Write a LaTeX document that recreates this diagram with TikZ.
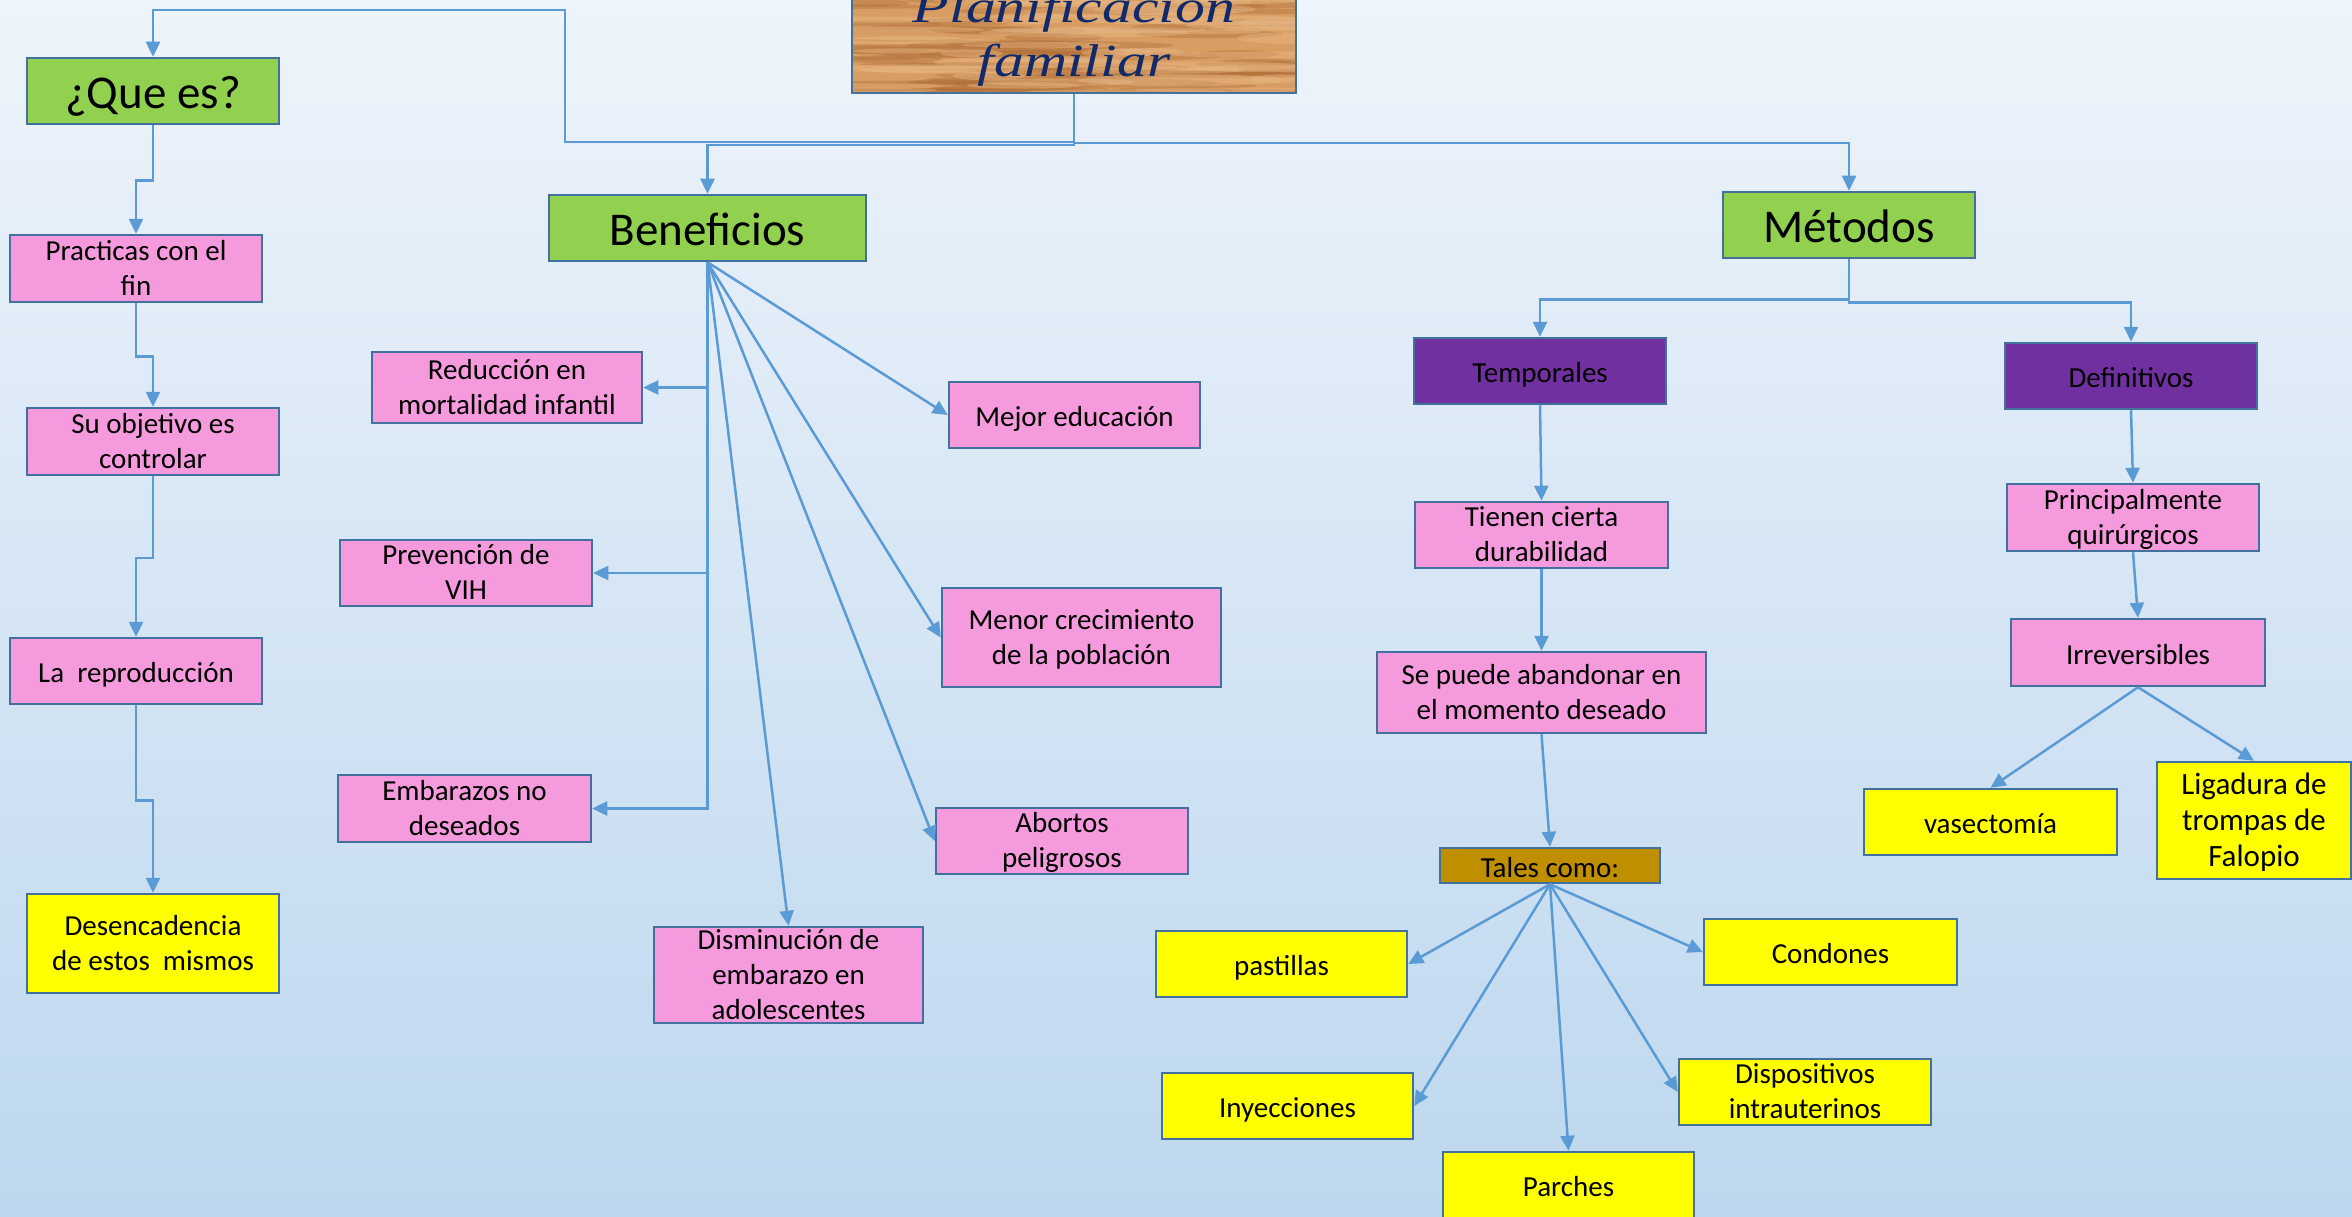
\documentclass[tikz,border=0pt]{standalone}
\usepackage{fontspec}
\setmainfont{Carlito}
\newfontfamily\titlefont[FakeStretch=1.3]{Liberation Serif}
\usetikzlibrary{arrows.meta}
\definecolor{bgtop}{HTML}{EEF4FB}
\definecolor{bgbot}{HTML}{BDD7EE}
\definecolor{bordc}{HTML}{41719C}
\definecolor{linec}{HTML}{5B9BD5}
\definecolor{pinkc}{HTML}{F59BDD}
\definecolor{yelc}{HTML}{FFFF00}
\definecolor{greenc}{HTML}{92D050}
\definecolor{purpc}{HTML}{7030A0}
\definecolor{goldc}{HTML}{BF8F00}
\definecolor{woodbase}{HTML}{D79D62}
\definecolor{woodd}{HTML}{B06F38}
\definecolor{woodl}{HTML}{EBBB88}
\definecolor{titlec}{HTML}{102A6C}
\newcommand\boxfont{\fontsize{29}{35}\selectfont}
\newcommand\headfont{\fontsize{47}{56}\selectfont}
\tikzset{
  bx/.style={draw=bordc, line width=2.5pt, inner sep=0pt, align=center, text=black, font=\boxfont,
             execute at begin node=\strut, execute at end node=\strut, text depth=1.5pt},
  pinkb/.style={bx, fill=pinkc},
  yelb/.style={bx, fill=yelc},
  greenb/.style={bx, fill=greenc, font=\headfont, text depth=4pt},
  purpb/.style={bx, fill=purpc},
  goldb/.style={bx, fill=goldc},
  sz/.style 2 args={minimum width=#1pt, minimum height=#2pt},
  conn/.style={draw=linec, line width=2.5pt, -{Triangle[length=15pt,width=14pt]}},
}
\begin{document}
\begin{tikzpicture}[x=1pt,y=-1pt]
\useasboundingbox (0,0) rectangle (2352,1217);
\clip (0,0) rectangle (2352,1217);
\shade[top color=bgtop, bottom color=bgbot] (0,0) rectangle (2352,1217);

% wood texture of the title box
\begin{scope}
  \clip (852,-17) rectangle (1296,93);
  \fill[woodbase] (852,-17) rectangle (1296,93);
  \pgfmathsetseed{12}
  \foreach \k in {1,...,80}{
    \pgfmathsetmacro{\wx}{852+444*rnd}
    \pgfmathsetmacro{\wy}{-17+110*rnd}
    \pgfmathsetmacro{\wl}{30+80*rnd}
    \pgfmathsetmacro{\wh}{1.5+3*rnd}
    \fill[woodd, opacity=0.4] (\wx,\wy) ellipse [x radius=\wl pt, y radius=\wh pt];
  }
  \foreach \k in {1,...,50}{
    \pgfmathsetmacro{\wx}{852+444*rnd}
    \pgfmathsetmacro{\wy}{-17+110*rnd}
    \pgfmathsetmacro{\wl}{30+80*rnd}
    \pgfmathsetmacro{\wh}{2+4*rnd}
    \fill[woodl, opacity=0.4] (\wx,\wy) ellipse [x radius=\wl pt, y radius=\wh pt];
  }
\end{scope}
\node[draw=bordc, line width=2.5pt, inner sep=0pt, sz={444}{110}, align=center, text=titlec,
      font=\titlefont\itshape\fontsize{46}{54}\selectfont] (title) at (1074,38) {Planificación\\familiar};

% heads
\node[greenb, sz={252}{66}] (que) at (153,91) {¿Que es?};
\node[greenb, sz={317}{66}] (benef) at (707.5,228) {Beneficios};
\node[greenb, sz={252}{66}] (metod) at (1849,225) {Métodos};

% left column
\node[pinkb, sz={252}{67}] (prac) at (136,268.5) {Practicas con el\\fin};
\node[pinkb, sz={252}{67}] (obj) at (153,441.5) {Su objetivo es\\controlar};
\node[pinkb, sz={252}{66}] (repro) at (136,671) {La~~reproducción};
\node[yelb, sz={252}{99}] (desen) at (153,943.5) {Desencadencia\\de estos~~mismos};

% beneficios
\node[pinkb, sz={270}{71}] (reduc) at (507,387.5) {Reducción en\\mortalidad infantil};
\node[pinkb, sz={252}{66}] (preven) at (466,573) {Prevención de\\VIH};
\node[pinkb, sz={253}{67}] (embar) at (464.5,808.5) {Embarazos no\\deseados};
\node[pinkb, sz={251}{66}] (mejor) at (1074.5,415) {Mejor educación};
\node[pinkb, sz={279}{99}] (menor) at (1081.5,637.5) {Menor crecimiento\\de la población};
\node[pinkb, sz={252}{66}] (abort) at (1062,841) {Abortos\\peligrosos};
\node[pinkb, sz={269}{96}] (dismin) at (788.5,975) {Disminución de\\embarazo en\\adolescentes};

% metodos
\node[purpb, sz={252}{66}] (temp) at (1540,371) {Temporales};
\node[purpb, sz={252}{66}] (defin) at (2131,376) {Definitivos};
\node[pinkb, sz={253}{66}] (tienen) at (1541.5,535) {Tienen cierta\\durabilidad};
\node[pinkb, sz={252}{67}] (princ) at (2133,517.5) {Principalmente\\quirúrgicos};
\node[pinkb, sz={254}{67}] (irrev) at (2138,652.5) {Irreversibles};
\node[yelb, sz={253}{66}] (vasec) at (1990.5,822) {vasectomía};
\node[yelb, sz={194}{117}, font=\fontsize{31}{36}\selectfont] (ligad) at (2254,820.5) {Ligadura de\\trompas de\\Falopio};
\node[pinkb, sz={329}{81}] (sepuede) at (1541.5,692.5) {Se puede abandonar en\\el momento deseado};
\node[goldb, sz={220}{35}] (tales) at (1550,865.5) {Tales como:};
\node[yelb, sz={251}{66}] (pastillas) at (1281.5,964) {pastillas};
\node[yelb, sz={253}{66}] (condones) at (1830.5,952) {Condones};
\node[yelb, sz={251}{66}] (inyec) at (1287.5,1106) {Inyecciones};
\node[yelb, sz={251}{66}] (parches) at (1568.5,1185) {Parches};
\node[yelb, sz={252}{66}] (disp) at (1805,1092) {Dispositivos\\intrauterinos};

% connectors from the title
\coordinate (qturn) at (565,10);
\draw[conn] (title.south) -- ++(0,48) -| (qturn) -| (que.north);
\draw[conn] (title.south) -- ++(0,51) -| (benef.north);
\draw[conn] (title.south) -- ++(0,49) -| (metod.north);

% left column
\draw[conn] (que.south) -- ++(0,55.5) -| (prac.north);
\draw[conn] (prac.south) -- ++(0,53) -| (obj.north);
\draw[conn] (obj.south) -- ++(0,81.5) -| (repro.north);
\draw[conn] (repro.south) -- ++(0,95) -| (desen.north);

% beneficios
\draw[conn] (benef.south) |- (reduc.east);
\draw[conn] (benef.south) |- (preven.east);
\draw[conn] (benef.south) |- (embar.east);
\draw[conn] (benef.south) -- (mejor.west);
\draw[conn] (benef.south) -- (menor.west);
\draw[conn] (benef.south) -- (abort.west);
\draw[conn] (benef.south) -- (dismin.north);

% metodos
\draw[conn] (metod.south) -- ++(0,40) -| (temp.north);
\draw[conn] (metod.south) -- ++(0,43) -| (defin.north);
\draw[conn] (temp.south) -- (tienen.north);
\draw[conn] (tienen.south) -- (sepuede.north);
\draw[conn] (sepuede.south) -- (tales.north);
\draw[conn] (defin.south) -- (princ.north);
\draw[conn] (princ.south) -- (irrev.north);
\draw[conn] (irrev.south) -- (vasec.north);
\draw[conn] (irrev.south) -- (ligad.north);
\draw[conn] (tales.south) -- (pastillas.east);
\draw[conn] (tales.south) -- (condones.west);
\draw[conn] (tales.south) -- (inyec.east);
\draw[conn] (tales.south) -- (parches.north);
\draw[conn] (tales.south) -- (disp.west);
\end{tikzpicture}
\end{document}
